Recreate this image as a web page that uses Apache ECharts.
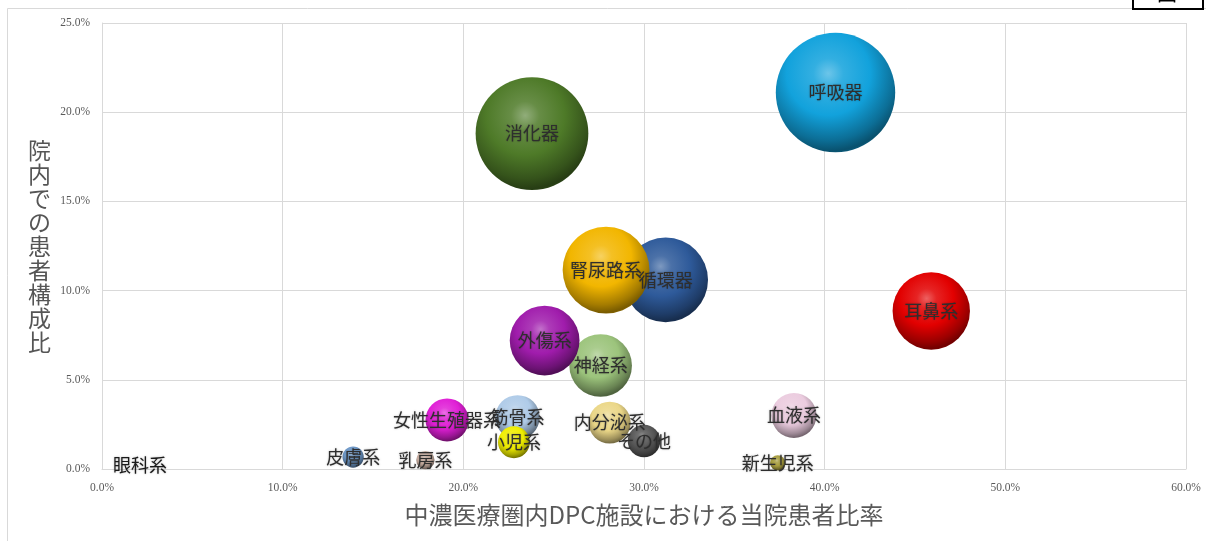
<!DOCTYPE html>
<html>
<head>
<meta charset="utf-8">
<script src="https://cdn.jsdelivr.net/npm/echarts@6/dist/echarts.min.js"></script>
<style>
  html, body { margin: 0; padding: 0; background: #ffffff; }
  #chart { width: 1206px; height: 541px; }
</style>
</head>
<body>
<div id="chart"></div>
<script>
// 診療科系統ごとの位置づけ（横：中濃医療圏内DPC施設における当院患者比率、縦：院内での患者構成比、円の大きさ：院内構成比）
const departments = ['眼科系', '皮膚系', '乳房系', '女性生殖器系', '筋骨系', '小児系', '循環器', '腎尿路系',
  '神経系', '外傷系', '消化器', '内分泌系', 'その他', '血液系', '新生児系', '耳鼻系', '呼吸器'];
// 中濃医療圏内DPC施設における当院患者比率（%）
const regionShare = [2.1, 13.9, 17.9, 19.1, 23.0, 22.8, 31.2, 27.9,
  27.6, 24.5, 23.8, 28.1, 30.0, 38.3, 37.4, 45.9, 40.6];
// 院内での患者構成比（%）
const hospitalShare = [0.2, 0.67, 0.5, 2.75, 2.9, 1.5, 10.6, 11.15,
  5.8, 7.2, 18.8, 2.6, 1.57, 3.0, 0.34, 8.86, 21.1];
// 軸目盛（%）
const xTicks = [0, 10, 20, 30, 40, 50, 60];
const yTicks = [0, 5, 10, 15, 20, 25];

// 各系統の球の基本色
const sphereColors = {
  '眼科系': null,
  '皮膚系': '#6D98C8',
  '乳房系': '#CDB2A5',
  '女性生殖器系': '#E01FD6',
  '筋骨系': '#AFCBE8',
  '小児系': '#F0EE00',
  '循環器': '#2E5A9A',
  '腎尿路系': '#F2B600',
  '神経系': '#9CC47C',
  '外傷系': '#A01CAC',
  '消化器': '#4E7A28',
  '内分泌系': '#EBD788',
  'その他': '#585858',
  '血液系': '#EBCCDF',
  '新生児系': '#A89E3E',
  '耳鼻系': '#E20000',
  '呼吸器': '#12A2DC'
};

function mix(hex, target, t) {
  const n = parseInt(hex.slice(1), 16);
  const r = (n >> 16) & 255, g = (n >> 8) & 255, b = n & 255;
  const tr = target === 'w' ? 255 : 0;
  const c = v => Math.round(v + (tr - v) * t);
  return 'rgb(' + c(r) + ',' + c(g) + ',' + c(b) + ')';
}

// 立体的な球に見せる放射グラデーション
function sphereFill(base) {
  if (!base) return 'rgba(0,0,0,0)';
  return {
    type: 'radial', x: 0.44, y: 0.34, r: 0.7,
    colorStops: [
      { offset: 0, color: mix(base, 'w', 0.38) },
      { offset: 0.18, color: mix(base, 'w', 0.14) },
      { offset: 0.5, color: base },
      { offset: 0.8, color: mix(base, 'b', 0.32) },
      { offset: 0.93, color: mix(base, 'b', 0.5) },
      { offset: 1, color: mix(base, 'b', 0.38) }
    ]
  };
}

// 円の面積を院内構成比に比例させる
const BUBBLE_K = 26;
const points = departments.map((name, i) => ({
  name: name,
  value: [regionShare[i], hospitalShare[i]],
  symbolSize: BUBBLE_K * Math.sqrt(hospitalShare[i]),
  itemStyle: { color: sphereFill(sphereColors[name]), opacity: 1 },
  label: name === '眼科系' ? { color: '#1a1a1a' } : undefined
}));

const tickFont = { fontFamily: 'Liberation Serif', fontSize: 11.5, color: '#595959' };

const chart = echarts.init(document.getElementById('chart'), null, { renderer: 'canvas' });
chart.setOption({
  animation: false,
  backgroundColor: '#ffffff',
  grid: { left: 102, right: 20, top: 23, bottom: 72 },
  xAxis: {
    type: 'value',
    min: xTicks[0], max: xTicks[xTicks.length - 1], interval: 10,
    name: '中濃医療圏内DPC施設における当院患者比率',
    nameLocation: 'middle', nameGap: 34,
    nameTextStyle: { fontFamily: 'Noto Sans CJK JP', fontSize: 24, color: '#595959' },
    axisLine: { show: true, lineStyle: { color: '#d9d9d9', width: 1 } },
    axisTick: { show: false },
    axisLabel: Object.assign({ margin: 13, formatter: v => v.toFixed(1) + '%' }, tickFont),
    splitLine: { show: true, lineStyle: { color: '#d9d9d9', width: 1 } }
  },
  yAxis: {
    type: 'value',
    min: yTicks[0], max: yTicks[yTicks.length - 1], interval: 5,
    axisLine: { show: true, lineStyle: { color: '#d9d9d9', width: 1 } },
    axisTick: { show: false },
    axisLabel: Object.assign({ margin: 12, formatter: v => v.toFixed(1) + '%' }, tickFont),
    splitLine: { show: true, lineStyle: { color: '#d9d9d9', width: 1 } }
  },
  graphic: [
    {
      type: 'rect', z: -1, silent: true,
      shape: { x: 7.5, y: 8.5, width: 1230, height: 560 },
      style: { fill: 'none', stroke: '#d9d9d9', lineWidth: 1 }
    },
    {
      type: 'group', silent: true,
      children: [
        { type: 'rect', shape: { x: 1133, y: -20, width: 70, height: 29 },
          style: { fill: '#ffffff', stroke: '#000000', lineWidth: 2 } },
        { type: 'text', x: 1157, y: -17,
          style: { text: '図', fontFamily: 'Noto Sans CJK JP', fontSize: 20, fill: '#000000' } }
      ]
    },
    {
      type: 'text', silent: true, left: 28, top: 138,
      style: {
        text: '院内での患者構成比'.split('').join('\n'),
        fontFamily: 'Noto Sans CJK JP', fontSize: 23, lineHeight: 24,
        fill: '#555555', align: 'center'
      }
    }
  ],
  series: [{
    type: 'scatter',
    data: points,
    label: {
      show: true, position: 'inside',
      formatter: p => p.name,
      fontFamily: 'Noto Sans CJK JP', fontSize: 18, fontWeight: 'normal', color: '#2e2e2e',
      textShadowColor: 'rgba(0,0,0,0.3)', textShadowBlur: 2
    },
    emphasis: { disabled: true }
  }]
});
</script>
</body>
</html>
